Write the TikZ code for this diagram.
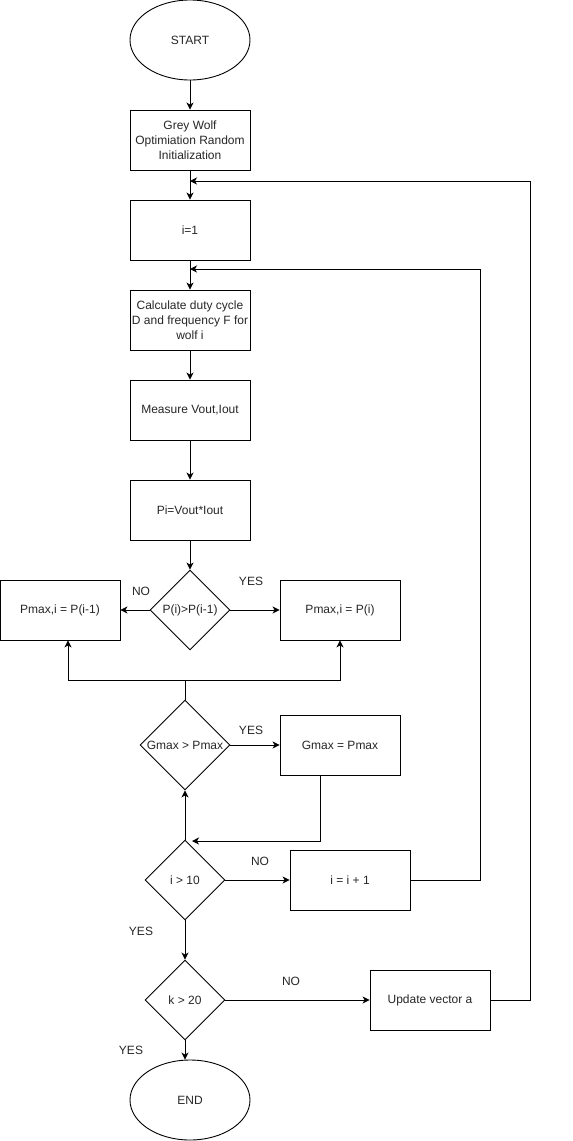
\documentclass[tikz,border=0pt]{standalone}
\usepackage{fontspec}
\setmainfont{Liberation Sans}
\usetikzlibrary{shapes.geometric,arrows.meta}
\begin{document}
\begin{tikzpicture}[x=1pt,y=-1pt,
  every node/.style={font=\fontsize{12}{15}\selectfont, text=black!85},
  box/.style={draw=black, line width=0.9pt, minimum width=120pt, minimum height=60pt, inner sep=2pt, align=center},
  oval/.style={draw=black, line width=0.9pt, ellipse, minimum width=120pt, minimum height=80pt, inner sep=0pt},
  dec/.style={draw=black, line width=0.9pt, diamond, inner sep=0pt, aspect=1},
  arr/.style={draw=black, line width=0.9pt, -{Stealth[length=7pt,width=7pt,inset=2pt]}},
  ln/.style={draw=black, line width=0.9pt},
  lab/.style={inner sep=0pt}]
\useasboundingbox (0,0) rectangle (573,1141);
\node[oval] (start) at (190,40) {START};
\node[box] (gw) at (190,140) {Grey Wolf\\Optimiation Random\\Initialization};
\node[box] (i1) at (190,230) {i=1};
\node[box] (calc) at (190,320) {Calculate duty cycle\\D and frequency F for\\wolf i};
\node[box] (meas) at (190,410) {Measure Vout,Iout};
\node[box] (pi) at (190,510) {Pi=Vout*Iout};
\node[dec, minimum width=80pt, minimum height=80pt] (d1) at (190,610) {P(i)>P(i-1)};
\node[box] (pprev) at (60,610) {Pmax,i = P(i-1)};
\node[box] (pcur) at (340,610) {Pmax,i = P(i)};
\node[dec, minimum width=90pt, minimum height=90pt] (d2) at (185,745) {Gmax > Pmax};
\node[box] (gset) at (340,745) {Gmax = Pmax};
\node[dec, minimum width=80pt, minimum height=80pt] (d3) at (185,880) {i > 10};
\node[box] (inc) at (350,880) {i = i + 1};
\node[dec, minimum width=80pt, minimum height=80pt] (d4) at (185,1000) {k > 20};
\node[box] (upd) at (430,1000) {Update vector a};
\node[oval] (end) at (190,1100) {END};
\coordinate (m2) at (190,181);
\coordinate (m1) at (190,269);
\coordinate (j) at (190,680);
\coordinate (g) at (192,841);
% connectors
\draw[arr] (start) -- (gw);
\draw[arr] (gw) -- (i1);
\draw[arr] (i1) -- (calc);
\draw[arr] (calc) -- (meas);
\draw[arr] (meas) -- (pi);
\draw[arr] (pi) -- (d1);
\draw[arr] (d1.west) -- (pprev.east);
\draw[arr] (d1.east) -- (pcur.west);
\draw[ln] (d2.north) -- (d2.north |- j) -- (j);
\draw[arr] (j) -| ([xshift=8pt]pprev.south);
\draw[arr] (j) -| (pcur.south);
\draw[arr] (d2.east) -- (gset.west);
\draw[arr] ([xshift=-20pt]gset.south) |- (g);
\draw[arr] (d3.north) -- (d2.south);
\draw[arr] (d3.east) -- (inc.west);
\draw[arr] (inc.east) -- ++(70,0) |- (m1);
\draw[arr] (d3.south) -- (d4.north);
\draw[arr] (d4.east) -- (upd.west);
\draw[arr] (upd.east) -- ++(40,0) |- (m2);
\draw[arr] (d4.south) -- (d4.south |- end.north);
% labels
\node[lab] (l1) at (141,591) {NO};
\node[lab] (l2) at (251,581) {YES};
\node[lab] (l3) at (251,730) {YES};
\node[lab] (l4) at (260,861) {NO};
\node[lab] (l5) at (141,931) {YES};
\node[lab] (l6) at (291,981) {NO};
\node[lab] (l7) at (131,1050) {YES};
\end{tikzpicture}
\end{document}
